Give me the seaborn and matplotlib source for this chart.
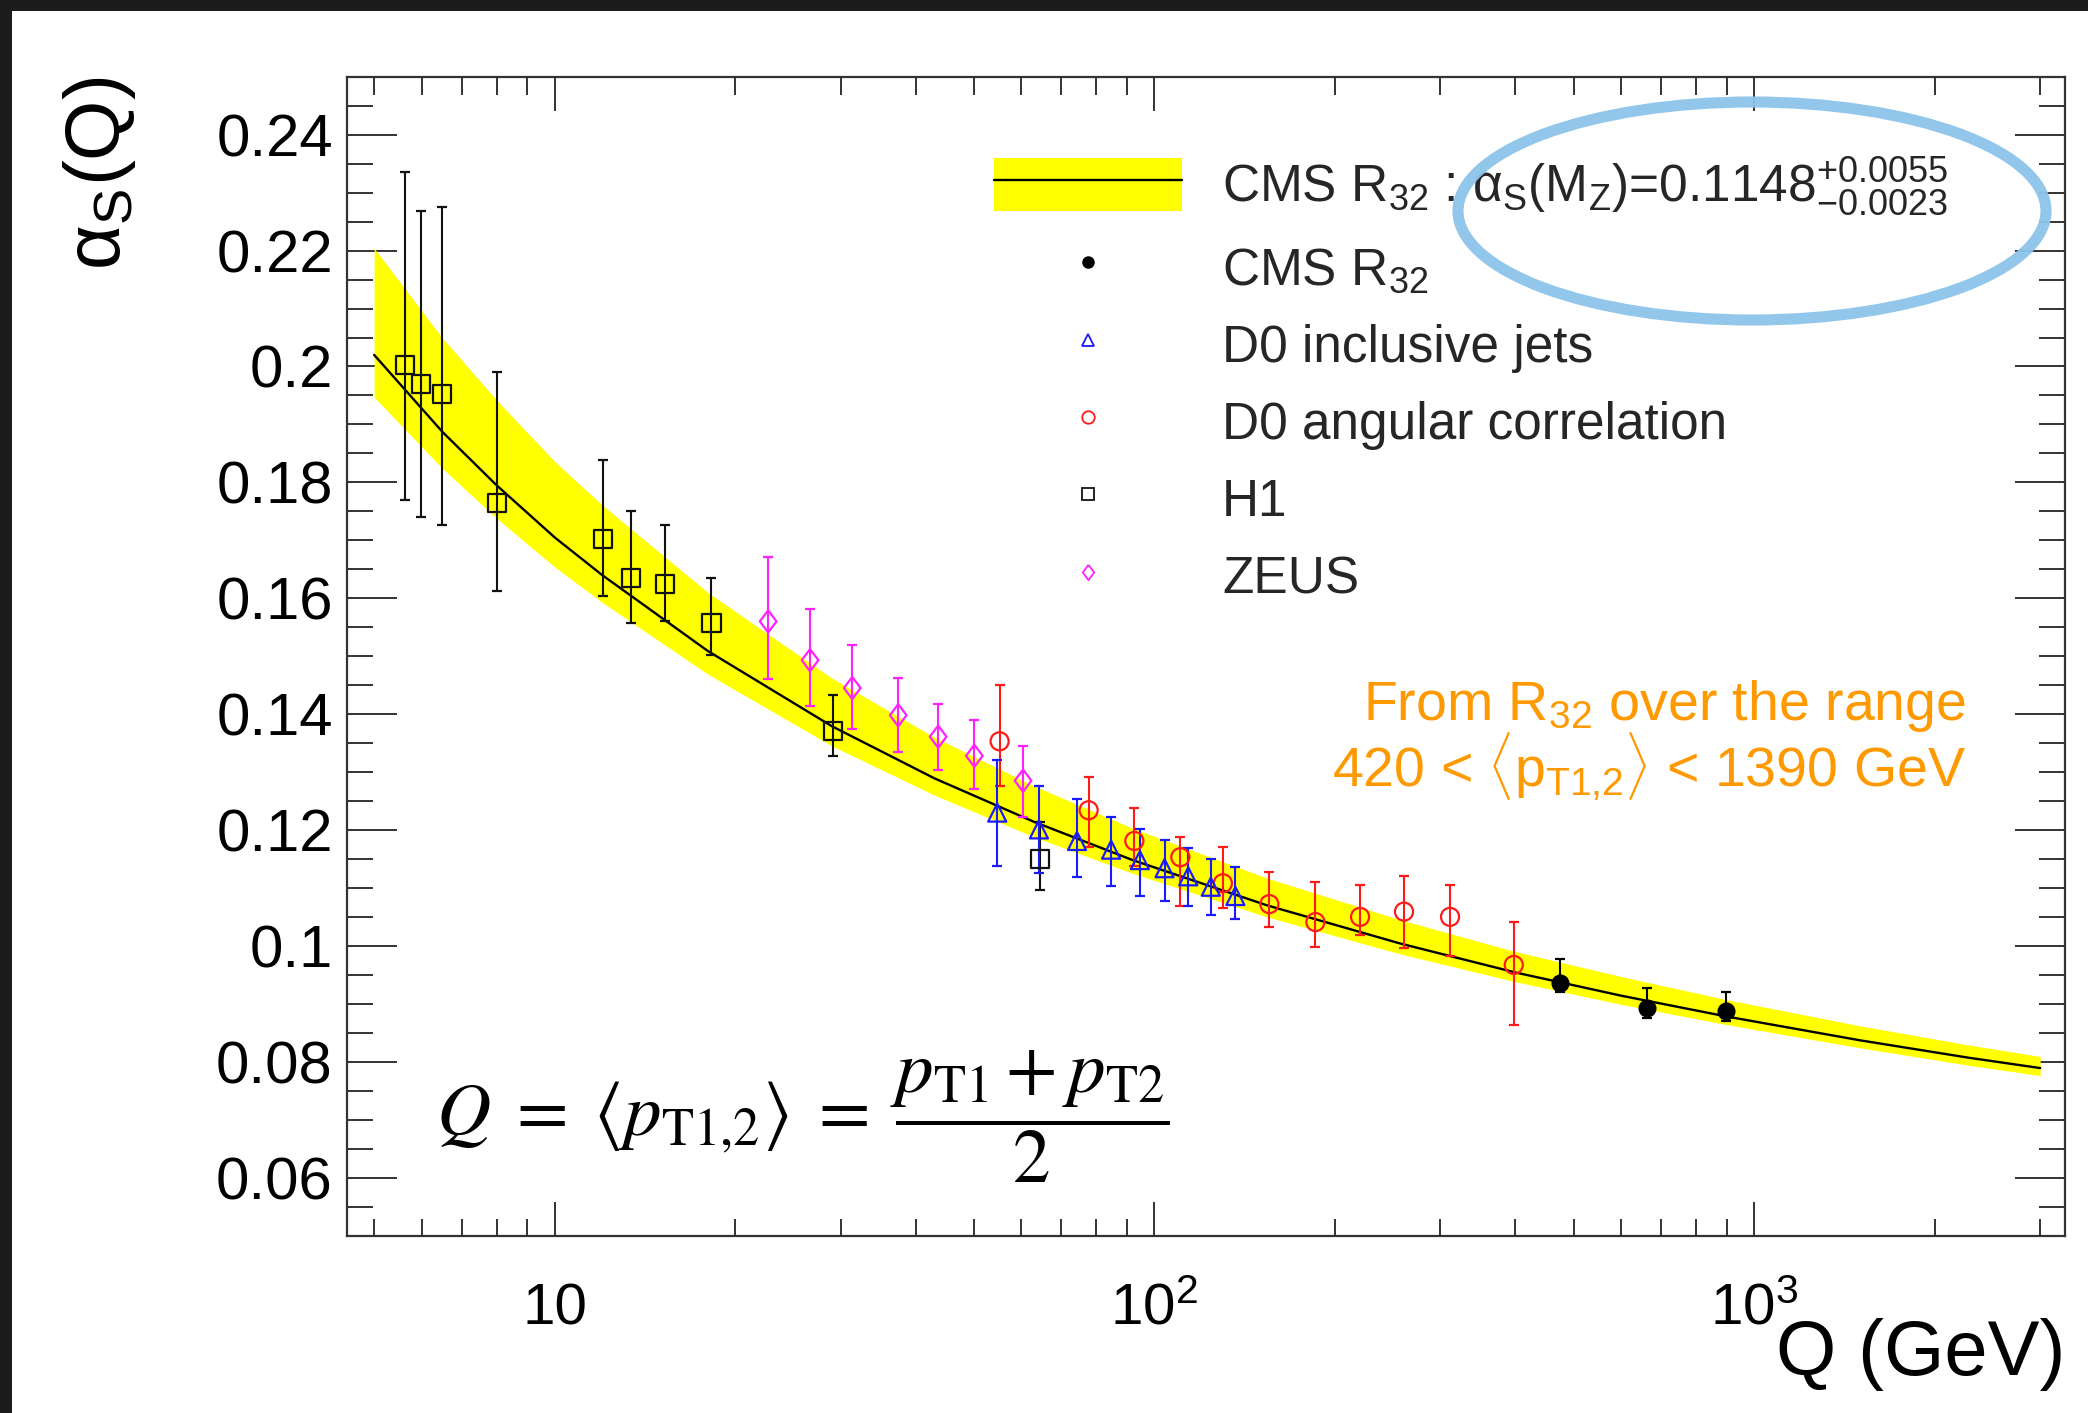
import numpy as np
import pandas as pd
import matplotlib
matplotlib.use("Agg")
import matplotlib.pyplot as plt
import seaborn as sns
from matplotlib.patches import Rectangle, Ellipse, Patch
from matplotlib.lines import Line2D
from matplotlib.ticker import FixedLocator, MultipleLocator, NullFormatter, LogLocator

# ---------------- data ----------------
curve_q   = [5, 6.5, 8, 10, 12, 18, 29, 43, 63, 92, 154, 257, 400, 600, 900, 1500, 2275, 3000]
curve_mid = [0.2020, 0.1887, 0.1795, 0.1705, 0.1640, 0.1509, 0.1379, 0.1289, 0.1214, 0.1148,
             0.1070, 0.1004, 0.0954, 0.0914, 0.0878, 0.0837, 0.0807, 0.0789]
band_hi   = [0.2204, 0.2049, 0.1942, 0.1836, 0.1761, 0.1610, 0.1462, 0.1360, 0.1276, 0.1203,
             0.1117, 0.1045, 0.0990, 0.0947, 0.0907, 0.0862, 0.0829, 0.0809]
band_lo   = [0.1947, 0.1824, 0.1738, 0.1654, 0.1593, 0.1469, 0.1345, 0.1260, 0.1188, 0.1125,
             0.1050, 0.0986, 0.0938, 0.0899, 0.0864, 0.0824, 0.0794, 0.0776]

cms_q  = [474, 664, 898]
cms_a  = [0.0936, 0.0893, 0.0888]
cms_lo = [0.0921, 0.0875, 0.0870]
cms_hi = [0.0977, 0.0927, 0.0921]

d0i_q  = [54.7, 64.2, 74.3, 84.7, 94.6, 104.0, 113.9, 124.2, 136.5]
d0i_a  = [0.1230, 0.1201, 0.1181, 0.1166, 0.1148, 0.1134, 0.1120, 0.1102, 0.1086]
d0i_lo = [0.1137, 0.1126, 0.1118, 0.1104, 0.1086, 0.1078, 0.1069, 0.1053, 0.1046]
d0i_hi = [0.1321, 0.1276, 0.1253, 0.1222, 0.1201, 0.1183, 0.1168, 0.1150, 0.1136]

d0a_q  = [55.2, 77.7, 92.6, 110.5, 130.1, 155.5, 185.6, 220.3, 260.8, 311.2, 397.5]
d0a_a  = [0.1353, 0.1234, 0.1181, 0.1153, 0.1108, 0.1072, 0.1041, 0.1050, 0.1059, 0.1050, 0.0967]
d0a_lo = [0.1276, 0.1171, 0.1137, 0.1069, 0.1065, 0.1032, 0.0998, 0.1019, 0.0996, 0.0983, 0.0863]
d0a_hi = [0.1451, 0.1291, 0.1238, 0.1187, 0.1170, 0.1128, 0.1110, 0.1105, 0.1121, 0.1105, 0.1041]

h1_q  = [5.62, 5.99, 6.50, 8.02, 12.02, 13.42, 15.27, 18.26, 29.09, 64.4]
h1_a  = [0.2002, 0.1970, 0.1952, 0.1764, 0.1703, 0.1635, 0.1625, 0.1557, 0.1371, 0.1150]
h1_lo = [0.1769, 0.1741, 0.1727, 0.1612, 0.1603, 0.1558, 0.1561, 0.1502, 0.1327, 0.1097]
h1_hi = [0.2335, 0.2269, 0.2275, 0.1991, 0.1838, 0.1750, 0.1727, 0.1635, 0.1433, 0.1214]

zeus_q  = [22.7, 26.66, 31.35, 37.4, 43.6, 50.1, 60.4]
zeus_a  = [0.1560, 0.1493, 0.1445, 0.1398, 0.1361, 0.1328, 0.1285]
zeus_lo = [0.1460, 0.1414, 0.1375, 0.1335, 0.1303, 0.1270, 0.1223]
zeus_hi = [0.1671, 0.1581, 0.1519, 0.1463, 0.1418, 0.1390, 0.1345]

legend_labels = [
    r"CMS R$_{32}$ : α$_{\rm S}$(M$_{\rm Z}$)=$0.1148^{+0.0055}_{-0.0023}$",
    r"CMS R$_{32}$",
    "D0 inclusive jets",
    "D0 angular correlation",
    "H1",
    "ZEUS",
]
xtick_vals = [10, 100, 1000]
xtick_labels = ["10", r"$10^{2}$", r"$10^{3}$"]
ytick_vals = [0.06, 0.08, 0.10, 0.12, 0.14, 0.16, 0.18, 0.20, 0.22, 0.24]
ytick_labels = ["0.06", "0.08", "0.1", "0.12", "0.14", "0.16", "0.18", "0.2", "0.22", "0.24"]

# ---------------- style ----------------
sns.set_theme(style="ticks")
plt.rcParams["font.family"] = ["Liberation Sans", "DejaVu Sans"]
plt.rcParams["mathtext.fontset"] = "custom"
plt.rcParams["mathtext.rm"] = "Liberation Sans"
plt.rcParams["mathtext.it"] = "Liberation Sans:italic"
plt.rcParams["mathtext.bf"] = "Liberation Sans:bold"
plt.rcParams["mathtext.sf"] = "Liberation Sans"
plt.rcParams["mathtext.default"] = "rm"

W, H = 2088, 1413
fig = plt.figure(figsize=(W / 100, H / 100), dpi=100)
fig.patch.set_facecolor("#1c1c1c")
fig.add_artist(Rectangle((12 / W, 0), 1, 1 - 11 / H, transform=fig.transFigure,
                         facecolor="white", edgecolor="none", zorder=-10))

ax_l, ax_r, ax_t, ax_b = 346.7, 2065, 76.8, 1235.5
ax = fig.add_axes([ax_l / W, 1 - ax_b / H, (ax_r - ax_l) / W, (ax_b - ax_t) / H])
ax.set_facecolor("white")
ax.set_xscale("log")
ax.set_xlim(4.5, 3300)
ax.set_ylim(0.05, 0.25)

YELLOW = "#ffff00"
BLUE = "#1a1aff"
RED = "#ff1a1a"
MAG = "#ff22ff"
BLK = "#111111"

# band + central curve
ax.fill_between(curve_q, band_lo, band_hi, color=YELLOW, lw=0, zorder=1)
sns.lineplot(x=curve_q, y=curve_mid, ax=ax, color="black", lw=1.7, zorder=2,
             estimator=None, sort=True)

diamond = [(0, 1), (0.75, 0), (0, -1), (-0.75, 0), (0, 1)]

sets = [
    (d0a_q, d0a_a, d0a_lo, d0a_hi, RED, "o", 13, False),
    (zeus_q, zeus_a, zeus_lo, zeus_hi, MAG, diamond, 16, False),
    (h1_q, h1_a, h1_lo, h1_hi, BLK, "s", 13, False),
    (d0i_q, d0i_a, d0i_lo, d0i_hi, BLUE, "^", 13, False),
    (cms_q, cms_a, cms_lo, cms_hi, "black", "o", 12, True),
]
for q, a, lo, hi, c, m, ms, filled in sets:
    a_arr = np.asarray(a)
    yerr = [a_arr - np.asarray(lo), np.asarray(hi) - a_arr]
    ax.errorbar(q, a, yerr=yerr, fmt="none", ecolor=c, elinewidth=1.5,
                capsize=3.8, capthick=1.6, zorder=3)
    if filled:
        sns.scatterplot(x=q, y=a, ax=ax, marker=m, s=ms ** 2, color=c,
                        edgecolor=c, linewidth=1.0, zorder=4, legend=False)
    else:
        sns.scatterplot(x=q, y=a, ax=ax, marker=m, s=ms ** 2, color=c,
                        facecolor="none", edgecolor=c, linewidth=1.6, zorder=4,
                        legend=False)

# ---------------- axes / ticks ----------------
for sp in ax.spines.values():
    sp.set_linewidth(1.6)
    sp.set_color("#333333")
    sp.set_visible(True)

ax.xaxis.set_major_locator(FixedLocator(xtick_vals))
ax.xaxis.set_minor_locator(LogLocator(base=10, subs=np.arange(2, 10), numticks=30))
ax.xaxis.set_minor_formatter(NullFormatter())
ax.yaxis.set_major_locator(FixedLocator(ytick_vals))
ax.yaxis.set_minor_locator(MultipleLocator(0.005))

tc = "#333333"
ax.tick_params(axis="x", which="major", direction="in", length=24.5, width=1.4,
               top=True, bottom=True, labelsize=42, pad=64, colors=tc, labelcolor="black")
ax.tick_params(axis="x", which="minor", direction="in", length=12.6, width=1.4,
               top=True, bottom=True, colors=tc)
ax.tick_params(axis="y", which="major", direction="in", length=36, width=1.4,
               left=True, right=True, labelsize=43, pad=10, colors=tc, labelcolor="black")
ax.tick_params(axis="y", which="minor", direction="in", length=18.7, width=1.4,
               left=True, right=True, colors=tc)
ax.set_xticks(xtick_vals, labels=xtick_labels, va="baseline")
ax.set_yticks(ytick_vals, labels=ytick_labels, va="center_baseline")

ax.set_ylabel(r"α$_{\rm S}$(Q)", fontsize=56, loc="top", color="black")
ax.yaxis.set_label_coords((138 - ax_l) / (ax_r - ax_l), 1.0)
ax.set_xlabel("Q (GeV)", fontsize=56, loc="right", color="black")
ax.xaxis.set_label_coords(1.0, -(1318 - ax_b) / (ax_b - ax_t))

# ---------------- legend ----------------
handles = [
    (Patch(facecolor=YELLOW, edgecolor="none"), Line2D([], [], color="black", lw=1.7)),
    Line2D([], [], marker="o", ls="none", color="black", ms=8),
    Line2D([], [], marker="^", ls="none", mfc="none", mec=BLUE, ms=9, mew=1.3),
    Line2D([], [], marker="o", ls="none", mfc="none", mec=RED, ms=9, mew=1.3),
    Line2D([], [], marker="s", ls="none", mfc="none", mec=BLK, ms=9, mew=1.3),
    Line2D([], [], marker=diamond, ls="none", mfc="none", mec=MAG, ms=11, mew=1.3),
]
leg = ax.legend(handles, legend_labels, loc="upper left",
                bbox_to_anchor=((994 - ax_l) / (ax_r - ax_l), 1 - (155 - ax_t) / (ax_b - ax_t)),
                frameon=False, fontsize=37, handlelength=3.66, handleheight=1.2,
                handletextpad=0.78, labelspacing=0.44, borderpad=0, borderaxespad=0)

# hand-drawn highlight ellipse
fig.add_artist(Ellipse((1752 / W, 1 - 211 / H), 588 / W, 218 / H, transform=fig.transFigure,
                       facecolor="none", edgecolor="#8cc4ea", lw=8, alpha=0.95, zorder=10))

# ---------------- annotations ----------------
ORANGE = "#ff9900"
fig.text(1966 / W, 1 - 787 / H,
         "From R$_{32}$ over the range\n"
         r"420 < $\langle {\rm p}_{\rm T1{,}2} \rangle$ < 1390 GeV",
         color=ORANGE, fontsize=40, ha="right", va="baseline", multialignment="right",
         linespacing=0.93)

fig.text(436 / W, 1 - 1136 / H,
         r"$\mathit{Q}\;=\;\langle \mathit{p}_{\rm T1{,}2} \rangle\;=\;"
         r"\dfrac{\mathit{p}_{\rm T1} + \mathit{p}_{\rm T2}}{2}$",
         fontsize=54, ha="left", va="baseline", math_fontfamily="stix", color="black")

fig.savefig("out.png", dpi=100, facecolor=fig.get_facecolor())
